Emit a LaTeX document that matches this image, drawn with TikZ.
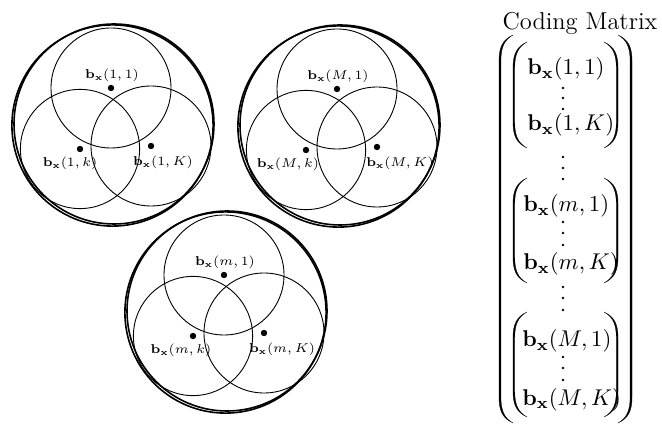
\documentclass[tikz,border=0pt]{standalone}
\usepackage{fix-cm}
\usetikzlibrary{calc}

\begin{document}
\begin{tikzpicture}[x=0.5pt, y=-0.5pt,
    ring/.style={line width=0.45pt},
    hull/.style={line width=0.8pt},
    lbl/.style={font=\fontsize{6.4}{8}\selectfont, inner sep=0pt},
    entry/.style={font=\fontsize{11.4}{14}\selectfont, inner sep=0pt, anchor=base west},
    paren/.style={fill=black, line width=0.15pt}]

    % --- Marco de la figura ---
    \useasboundingbox (0,0) rectangle (662,426);

    % --- Diagramas de círculos (uno por cada m) ---
    \foreach \d/\tx/\ty/\m/\lx/\rx in {1/111/88/1/-10/12, 2/337/89/M/-18/23, 3/224/275/m/-12/18} {
        \coordinate (T\d) at (\tx,\ty);
        \coordinate (L\d) at ($(T\d)+(-31,61)$);
        \coordinate (R\d) at ($(T\d)+(40,58)$);
        \coordinate (O\d) at ($(T\d)+(3,36)$);
        % Contorno doble
        \draw[hull] (O\d) circle (50pt);
        \draw[hull] ($(O\d)+(-1.5,1.5)$) circle (50.3pt);
        % Tres círculos interiores
        \draw[ring] (T\d) circle (30pt);
        \draw[ring] (L\d) circle (29.8pt);
        \draw[ring] (R\d) circle (30pt);
        % Centros
        \fill (T\d) circle (1.6pt);
        \fill (L\d) circle (1.6pt);
        \fill (R\d) circle (1.6pt);
        % Etiquetas
        \node[lbl] (top\d) at ($(T\d)+(1,-13)$) {$\mathbf{b}_{\mathbf{x}}(\m,1)$};
        \node[lbl] (left\d) at ($(L\d)+(\lx,14)$) {$\mathbf{b}_{\mathbf{x}}(\m,k)$};
        \node[lbl] (right\d) at ($(R\d)+(\rx,16)$) {$\mathbf{b}_{\mathbf{x}}(\m,K)$};
    }

    % --- Matriz de codificación ---
    \node[font=\fontsize{12.2}{15}\selectfont, anchor=base, inner sep=0pt] (title) at (580,30) {Coding Matrix};

    \foreach \g/\m/\x/\ya/\yb in {1/1/527/75/131, 2/m/523/212/270, 3/M/522/347/405} {
        \node[entry] (first\g) at (\x,\ya) {$\mathbf{b}_{\mathbf{x}}(\m,1)$};
        \node[entry] (last\g) at (\x,\yb) {$\mathbf{b}_{\mathbf{x}}(\m,K)$};
    }

    % Puntos verticales
    \foreach \y in {88,98,109, 157,168,179, 222,233,245, 287,298,310, 357,368,380}
        \fill (563,\y) circle (0.7pt);

    % Paréntesis (exterior y tres interiores)
    \foreach \xl/\xr/\yt/\yb/\hw/\t in {499/632/35/423/14/1.9, 513/618/42/148/14/1.7,
                                        513/618/178/283/14/1.7, 513/618/312/417/14/1.7} {
        \filldraw[paren] (\xl+\hw,\yt) .. controls (\xl+3,\yt+5) and (\xl,\yt+13) .. (\xl,\yt+26)
            -- (\xl,\yb-26) .. controls (\xl,\yb-13) and (\xl+3,\yb-5) .. (\xl+\hw,\yb)
            .. controls (\xl+3+\t,\yb-5) and (\xl+\t,\yb-13) .. (\xl+\t,\yb-26)
            -- (\xl+\t,\yt+26) .. controls (\xl+\t,\yt+13) and (\xl+3+\t,\yt+5) .. cycle;
        \filldraw[paren] (\xr-\hw,\yt) .. controls (\xr-3,\yt+5) and (\xr,\yt+13) .. (\xr,\yt+26)
            -- (\xr,\yb-26) .. controls (\xr,\yb-13) and (\xr-3,\yb-5) .. (\xr-\hw,\yb)
            .. controls (\xr-3-\t,\yb-5) and (\xr-\t,\yb-13) .. (\xr-\t,\yb-26)
            -- (\xr-\t,\yt+26) .. controls (\xr-\t,\yt+13) and (\xr-3-\t,\yt+5) .. cycle;
    }

\end{tikzpicture}
\end{document}
